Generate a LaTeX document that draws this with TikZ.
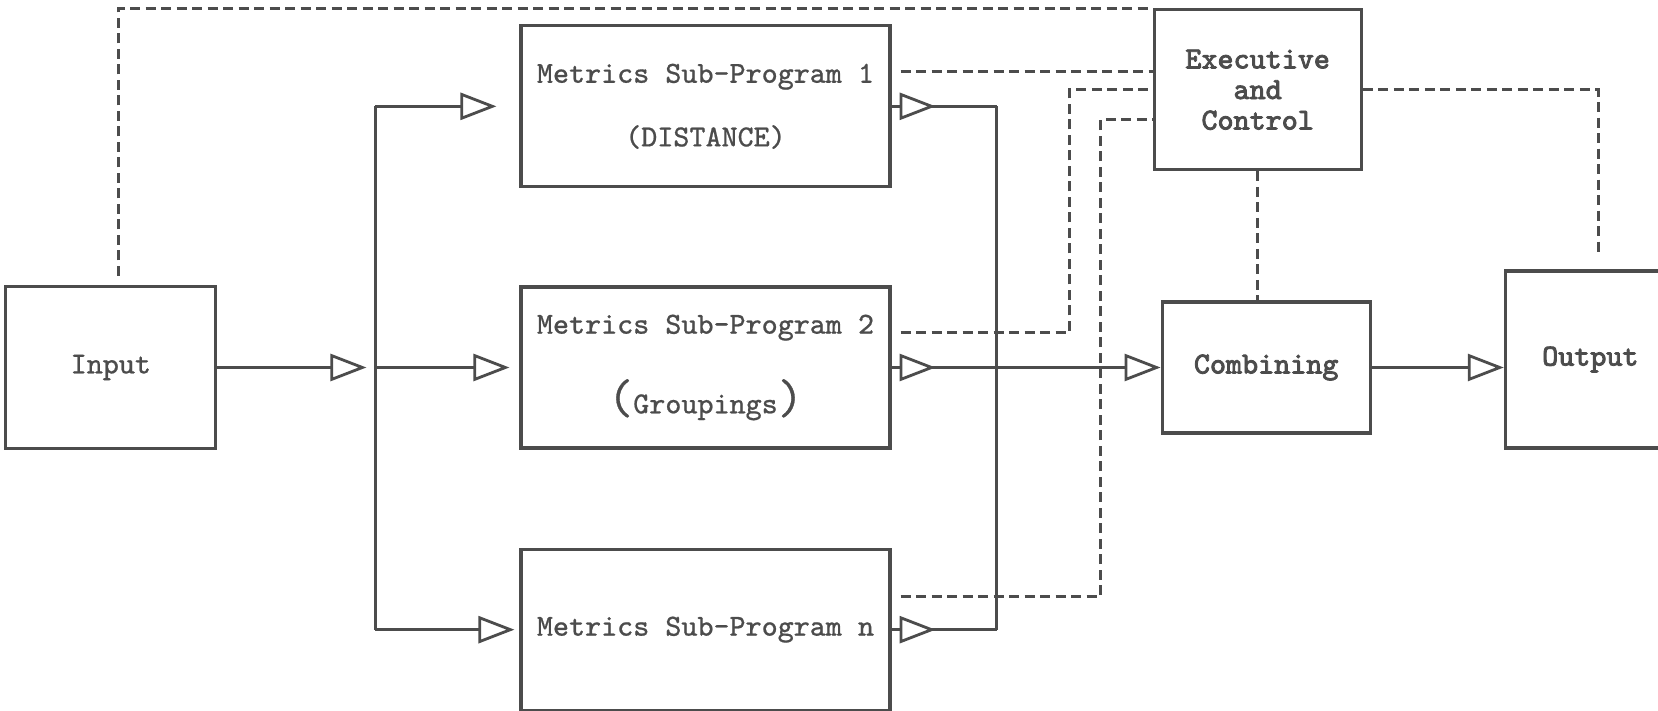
\documentclass[tikz,border=0pt]{standalone}
\usepackage{fontspec}
\setmonofont[FakeBold=0.6, BoldFont={Latin Modern Mono}, BoldFeatures={FakeBold=2.6}]{Latin Modern Mono}
\usetikzlibrary{positioning,arrows.meta,decorations.markings}
\definecolor{ink}{gray}{0.3}
\tikzset{
  blk/.style={draw=ink, line width=0.9pt, text=ink, font=\ttfamily\fontsize{8.7}{8.7}\selectfont, align=center, inner sep=0pt},
  sub/.style={minimum width=3.69cm, minimum height=1.61cm},
  head/.style={font=\ttfamily\bfseries\fontsize{8.7}{8.7}\selectfont},
  wire/.style={draw=ink, line width=0.8pt},
  flow/.style={wire, -{Triangle[fill=white, length=3.6mm, width=2.7mm]}},
  tap/.style={wire, postaction={decorate}, decoration={markings, mark=at position 4.4mm with {\arrow{Triangle[fill=white, length=3.6mm, width=2.7mm]}}}},
  ctrl/.style={wire, dash pattern=on 1mm off 0.55mm}
}
\newcommand{\bigparen}[1]{{\fontsize{14}{14}\selectfont#1}}
\begin{document}
\begin{tikzpicture}
\useasboundingbox (0,0) rectangle (16.58,7.10);
\node[blk, sub] (sp2) at (7.055,3.425) {Metrics Sub-Program 2\\[3.5mm]\bigparen{(}Groupings\bigparen{)}};
\node[blk, sub, above=0.97cm of sp2] (sp1) {Metrics Sub-Program 1\\[3.3mm](DISTANCE)};
\node[blk, sub, below=0.98cm of sp2] (spn) {Metrics Sub-Program n};
\node[blk, minimum width=2.1cm, minimum height=1.62cm, left=3.02cm of sp2] (input) {Input};
\node[blk, head, minimum width=2.08cm, minimum height=1.31cm, right=2.69cm of sp2] (comb) {Combining};
\node[blk, head, minimum width=2.07cm, minimum height=1.6cm, above=1.29cm of comb, xshift=-0.85mm] (exec) {Executive\\and\\Control};
\node[blk, head, minimum width=1.7cm, minimum height=1.77cm, right=1.32cm of comb, yshift=0.8mm] (output) {Output};
\coordinate[right=1.58cm of input.east] (fork);
\coordinate[right=1.05cm of sp2.east] (join);

\draw[flow, shorten >=0.9mm] (input) -- (fork);
\draw[wire] (fork |- sp1) -- (fork |- spn);
\draw[flow, shorten >=2.3mm] (fork |- sp1) -- (sp1);
\draw[flow, shorten >=1mm] (fork) -- (sp2);
\draw[flow, shorten >=0.5mm] (fork |- spn) -- (spn);
\draw[tap] (sp1) -- (join |- sp1);
\draw[tap] (spn) -- (join |- spn);
\draw[wire] (join |- sp1) -- (join |- spn);
\draw[tap, flow] (sp2) -- (comb);
\draw[flow] (comb) -- (comb -| output.west);

\draw[ctrl, shorten <=0.9mm] ([xshift=0.8mm]input.north) |- (exec.north west);
\draw[ctrl, shorten <=0.9mm] ([yshift=3.5mm]sp1.east) -- ([yshift=3.5mm]sp1.east -| exec.west);
\draw[ctrl, shorten <=0.9mm] ([yshift=3.5mm]sp2.east) -| ([xshift=-8.3mm]exec.west) -- (exec.west);
\draw[ctrl, shorten <=0.9mm] ([yshift=3.3mm]spn.east) -| ([xshift=-5.2mm,yshift=-3mm]exec.west) -- ([yshift=-3mm]exec.west);
\draw[ctrl] (exec) -- (exec |- comb.north);
\draw[ctrl, shorten >=1.3mm] (exec.east) -| ([xshift=0.8mm]output.north);
\end{tikzpicture}
\end{document}
